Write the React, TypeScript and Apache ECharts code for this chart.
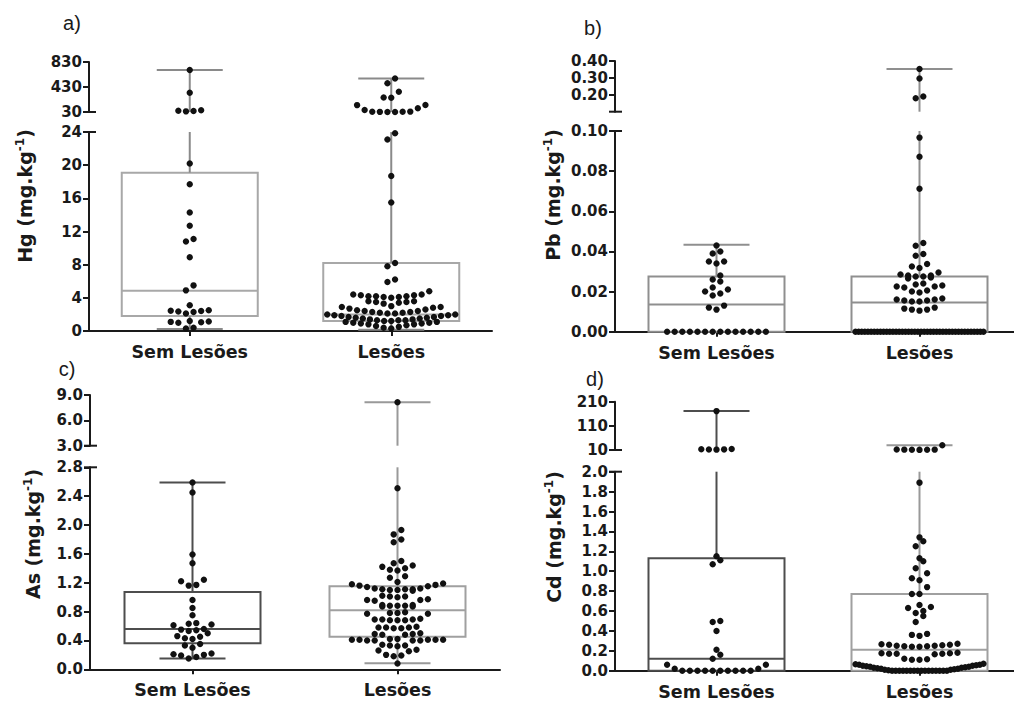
import React, { useEffect, useRef } from "react";
import * as echarts from "echarts";

const categories = ["Sem Lesões", "Lesões"];

// ---------- a) Hg ----------
const hgSemLesoes = [702, 339, 58, 50, 45, 40, 20.2, 17.7, 14.3, 12.7, 11.1, 10.8, 8.9, 5.5, 4.9, 3.1, 2.5, 2.45, 2.4, 2.35, 2.3, 2.1, 1.2, 1.15, 1.1, 1.05, 1.0, 0.4, 0.3];
const hgLesoes = [565, 489, 355, 262, 259, 142, 140, 89, 62, 36, 34, 33, 32, 31.5, 31,
  23.85, 23.1, 18.7, 15.5, 8.2, 7.8, 6.2, 5.9, 4.8,
  4.4, 4.4, 4.3, 4.3, 4.2, 4.2, 4.2, 4.1, 4.1, 4.0,
  3.6, 3.6, 3.5, 3.5, 3.4, 3.3, 3.0, 2.9, 2.9, 2.8, 2.7, 2.6,
  2.5, 2.4, 2.4, 2.3, 2.3, 2.2, 2.2, 2.1, 2.1, 2.0, 2.0, 1.9, 1.9, 1.8, 1.8, 1.7, 1.7, 1.6, 1.6,
  1.5, 1.5, 1.4, 1.4, 1.3, 1.3, 1.3, 1.2, 1.2, 1.1, 1.1, 1.0, 1.0, 0.9, 0.9, 0.8, 0.8, 0.7, 0.6, 0.5, 0.4, 0.3];
const hgBoxSemLesoes = [0.25, 1.8, 4.85, 19.1, 702]; // min, Q1, mediana, Q3, max
const hgBoxLesoes = [0.15, 1.2, 2.0, 8.2, 565];
const hgUpperRange = [30, 830];
const hgUpperTicks = [30, 430, 830];
const hgLowerTicks = [0, 4, 8, 12, 16, 20, 24];

// ---------- b) Pb ----------
const pbSemLesoes = [0.043, 0.040, 0.039, 0.035, 0.035, 0.034, 0.028, 0.026, 0.025, 0.022, 0.021, 0.020, 0.019, 0.018, 0.013, 0.012, 0.011,
  0, 0, 0, 0, 0, 0, 0, 0, 0, 0, 0, 0, 0, 0];
const pbLesoes = [0.353, 0.296, 0.19, 0.18, 0.0967, 0.0872, 0.0712, 0.0442, 0.0428, 0.0387, 0.0378, 0.0337, 0.0325, 0.0317,
  0.0295, 0.0285, 0.028, 0.028, 0.0275, 0.0275, 0.027, 0.0265,
  0.024, 0.0235, 0.023, 0.0225, 0.0225, 0.022,
  0.0205, 0.020, 0.0195,
  0.0165, 0.016, 0.016, 0.0155, 0.0155, 0.015, 0.015,
  0.012, 0.0115, 0.011, 0.011, 0.0105,
  0, 0, 0, 0, 0, 0, 0, 0, 0, 0, 0, 0, 0, 0, 0, 0, 0, 0, 0, 0, 0,
  0, 0, 0, 0, 0, 0, 0, 0, 0, 0, 0, 0, 0, 0, 0, 0, 0, 0, 0, 0, 0];
const pbBoxSemLesoes = [0, 0, 0.0135, 0.0275, 0.0433];
const pbBoxLesoes = [0, 0, 0.0145, 0.0275, 0.353];
const pbUpperRange = [0.1, 0.4];
const pbUpperTicks = [0.2, 0.3, 0.4];
const pbLowerTicks = [0, 0.02, 0.04, 0.06, 0.08, 0.1];

// ---------- c) As ----------
const asSemLesoes = [2.59, 2.45, 1.59, 1.47, 1.24, 1.22, 1.17, 1.16, 0.96, 0.85, 0.75, 0.64, 0.63, 0.62, 0.61, 0.56, 0.55, 0.54, 0.53, 0.50,
  0.46, 0.45, 0.43, 0.42, 0.35, 0.33, 0.30, 0.22, 0.21, 0.20, 0.19, 0.17, 0.15];
const asLesoes = [8.13, 2.51, 1.93, 1.87, 1.80, 1.76, 1.50, 1.47, 1.44, 1.42, 1.40, 1.38, 1.37, 1.29, 1.27, 1.21, 1.19, 1.18, 1.17, 1.16, 1.15, 1.14,
  1.12, 1.12, 1.11, 1.11, 1.11, 1.10, 1.10, 1.09,
  1.02, 1.01, 1.01, 1.00,
  0.97, 0.96, 0.96, 0.95,
  0.89, 0.89, 0.88, 0.88, 0.88, 0.87, 0.87,
  0.79, 0.78, 0.78, 0.77, 0.77,
  0.70, 0.69, 0.69, 0.69, 0.68, 0.68, 0.68,
  0.59, 0.58, 0.58, 0.58, 0.57, 0.57,
  0.50, 0.49, 0.49, 0.48, 0.48,
  0.42, 0.42, 0.41, 0.41, 0.41, 0.41, 0.41, 0.40, 0.40, 0.40, 0.40,
  0.34, 0.33, 0.33, 0.32,
  0.27, 0.26, 0.25,
  0.20, 0.19, 0.18,
  0.08];
const asBoxSemLesoes = [0.15, 0.36, 0.56, 1.07, 2.59];
const asBoxLesoes = [0.083, 0.45, 0.82, 1.15, 8.13];
const asUpperRange = [3, 9];
const asUpperTicks = [3, 6, 9];
const asLowerTicks = [0, 0.4, 0.8, 1.2, 1.6, 2.0, 2.4, 2.8];

// ---------- d) Cd ----------
const cdSemLesoes = [171, 14, 13, 12.5, 12, 11.5, 1.15, 1.11, 1.07, 0.50, 0.49, 0.40, 0.21, 0.16, 0.12, 0.06, 0.06, 0.02, 0.02,
  0, 0, 0, 0, 0, 0, 0, 0, 0, 0];
const cdLesoes = [30, 12, 11.5, 11, 11, 10.5, 11.5,
  1.89, 1.34, 1.30, 1.25, 1.13, 1.10, 1.03, 0.98, 0.93, 0.91, 0.84, 0.77, 0.77, 0.66, 0.64, 0.63, 0.60, 0.58, 0.55, 0.49, 0.37, 0.36, 0.35, 0.27,
  0.265, 0.26, 0.26, 0.255, 0.25, 0.25, 0.245, 0.245, 0.24, 0.24,
  0.18, 0.175, 0.17, 0.17, 0.165, 0.17, 0.175,
  0.12, 0.115, 0.11, 0.11,
  0, 0, 0, 0, 0, 0, 0, 0, 0, 0, 0, 0, 0, 0, 0, 0,
  0.005, 0.01, 0.01, 0.015, 0.02, 0.02, 0.025, 0.03, 0.03, 0.035, 0.04, 0.04, 0.045, 0.05, 0.05, 0.055, 0.06, 0.06, 0.065, 0.07];
const cdBoxSemLesoes = [0, 0, 0.12, 1.13, 171];
const cdBoxLesoes = [0, 0, 0.21, 0.77, 30];
const cdUpperRange = [10, 210];
const cdUpperTicks = [10, 110, 210];
const cdLowerTicks = [0, 0.2, 0.4, 0.6, 0.8, 1.0, 1.2, 1.4, 1.6, 1.8, 2.0];

// ---------- layout / style ----------
const INK = "#1a1a1a";
const DOT_R = 3.2;
const BIN_H = 7.2;
const DOT_GAP = 7.6;
const SWARM_HALF = 64;
const BOX_HALF = 68;
const CAP_HALF = 33;
const TICK_FONT = "DejaVu Sans";

const panels = [
  {
    letter: "a)", element: "Hg", sem: hgSemLesoes, les: hgLesoes, semBox: hgBoxSemLesoes, lesBox: hgBoxLesoes,
    upperRange: hgUpperRange, upperTicks: hgUpperTicks, lowerTicks: hgLowerTicks, upperDigits: 0, lowerDigits: 0,
    layout: { left: 89, width: 403, upperTop: 62, upperHeight: 50, lowerTop: 132, lowerHeight: 199, letterX: 72, letterY: 23, titleX: 25, titleY: 196 },
    colors: [{ box: "#a8a8a8", whisker: "#8a8a8a" }, { box: "#a8a8a8", whisker: "#8a8a8a" }],
  },
  {
    letter: "b)", element: "Pb", sem: pbSemLesoes, les: pbLesoes, semBox: pbBoxSemLesoes, lesBox: pbBoxLesoes,
    upperRange: pbUpperRange, upperTicks: pbUpperTicks, lowerTicks: pbLowerTicks, upperDigits: 2, lowerDigits: 2,
    layout: { left: 615, width: 406, upperTop: 61, upperHeight: 50.7, lowerTop: 131, lowerHeight: 200.7, letterX: 593, letterY: 28, titleX: 553, titleY: 195 },
    colors: [{ box: "#8f8f8f", whisker: "#8f8f8f" }, { box: "#8f8f8f", whisker: "#8f8f8f" }],
  },
  {
    letter: "c)", element: "As", sem: asSemLesoes, les: asLesoes, semBox: asBoxSemLesoes, lesBox: asBoxLesoes,
    upperRange: asUpperRange, upperTicks: asUpperTicks, lowerTicks: asLowerTicks, upperDigits: 1, lowerDigits: 1,
    layout: { left: 90, width: 410, upperTop: 395, upperHeight: 50.7, lowerTop: 467.3, lowerHeight: 202, letterX: 67, letterY: 369, titleX: 33, titleY: 534 },
    colors: [{ box: "#4d4d4d", whisker: "#4d4d4d" }, { box: "#a0a0a0", whisker: "#999999" }],
  },
  {
    letter: "d)", element: "Cd", sem: cdSemLesoes, les: cdLesoes, semBox: cdBoxSemLesoes, lesBox: cdBoxLesoes,
    upperRange: cdUpperRange, upperTicks: cdUpperTicks, lowerTicks: cdLowerTicks, upperDigits: 0, lowerDigits: 1,
    layout: { left: 615, width: 406, upperTop: 401.7, upperHeight: 48.3, lowerTop: 471.7, lowerHeight: 199, letterX: 595, letterY: 379, titleX: 554, titleY: 537 },
    colors: [{ box: "#4d4d4d", whisker: "#4d4d4d" }, { box: "#a0a0a0", whisker: "#999999" }],
  },
];

// GraphPad-like scatter: values are binned into rows; inside a row the points
// are spread from the centre outward in ascending order, compressed to fit.
function computeSwarm(points: number[][], api: any) {
  const pos = points.map((p) => api.coord([p[0], p[1]]));
  const out: number[][] = new Array(points.length);
  [0, 1].forEach((g) => {
    const idx = points
      .map((_, i) => i)
      .filter((i) => points[i][0] === g)
      .sort((a, b) => points[a][1] - points[b][1]);
    let k = 0;
    while (k < idx.length) {
      const y0 = pos[idx[k]][1];
      let j = k;
      while (j < idx.length && y0 - pos[idx[j]][1] < BIN_H) j++;
      const bin = idx.slice(k, j);
      const n = bin.length;
      const s = n > 1 ? Math.min(DOT_GAP, (2 * SWARM_HALF) / (n - 1)) : 0;
      bin.forEach((i, r) => {
        let off = 0;
        if (n % 2 === 1) {
          const m = Math.ceil(r / 2);
          off = r === 0 ? 0 : (r % 2 === 1 ? -m * s : m * s);
        } else {
          const m = Math.floor(r / 2);
          off = (r % 2 === 0 ? -1 : 1) * (m + 0.5) * s;
        }
        out[i] = [pos[i][0] + off, pos[i][1]];
      });
      k = j;
    }
  });
  return out;
}

function dotSeries(gridIndex: number, points: number[][]) {
  let cache: number[][] | null = null;
  return {
    type: "custom",
    xAxisIndex: gridIndex,
    yAxisIndex: gridIndex,
    z: 5,
    clip: false,
    silent: true,
    data: points,
    encode: { x: 0, y: 1 },
    renderItem: (params: any, api: any) => {
      if (params.dataIndex === 0 || !cache) cache = computeSwarm(points, api);
      const p = cache[params.dataIndex];
      return { type: "circle", shape: { cx: p[0], cy: p[1], r: DOT_R }, style: { fill: "#111111" } };
    },
  };
}

function boxSeries(gridIndex: number, boxes: number[][], segment: string, segMin: number, segMax: number, colors: any[]) {
  return {
    type: "custom",
    xAxisIndex: gridIndex,
    yAxisIndex: gridIndex,
    z: 2,
    clip: false,
    silent: true,
    data: boxes,
    encode: { x: 0, y: 1 },
    renderItem: (params: any, api: any) => {
      const g = api.value(0);
      const mn = api.value(1), q1 = api.value(2), md = api.value(3), q3 = api.value(4), mx = api.value(5);
      const cx = api.coord([g, 0])[0];
      const Y = (v: number) => api.coord([g, v])[1];
      const col = colors[g];
      const line = (x1: number, y1: number, x2: number, y2: number, stroke: string) => ({
        type: "line",
        shape: { x1, y1, x2, y2 },
        style: { stroke, lineWidth: 2 },
      });
      const children: any[] = [];
      if (segment === "lower") {
        const top = Math.min(q3, segMax);
        children.push({
          type: "rect",
          shape: { x: cx - BOX_HALF, y: Y(top), width: BOX_HALF * 2, height: Y(q1) - Y(top) },
          style: { fill: "none", stroke: col.box, lineWidth: 2 },
        });
        children.push(line(cx - BOX_HALF, Y(md), cx + BOX_HALF, Y(md), col.box));
        if (mn < q1) {
          children.push(line(cx, Y(mn), cx, Y(q1), col.whisker));
          children.push(line(cx - CAP_HALF, Y(mn), cx + CAP_HALF, Y(mn), col.whisker));
        }
        if (mx > q3) {
          children.push(line(cx, Y(q3), cx, Y(Math.min(mx, segMax)), col.whisker));
          if (mx <= segMax) children.push(line(cx - CAP_HALF, Y(mx), cx + CAP_HALF, Y(mx), col.whisker));
        }
      } else if (mx > segMin) {
        children.push(line(cx, Y(segMin), cx, Y(Math.min(mx, segMax)), col.whisker));
        children.push(line(cx - CAP_HALF, Y(mx), cx + CAP_HALF, Y(mx), col.whisker));
      }
      return { type: "group", children };
    },
  };
}

function buildOption() {
  const grid: any[] = [];
  const xAxis: any[] = [];
  const yAxis: any[] = [];
  const series: any[] = [];
  const graphic: any[] = [];

  panels.forEach((p, pi) => {
    const L = p.layout;
    const up = pi * 2;
    const lo = pi * 2 + 1;
    const lowerMin = p.lowerTicks[0];
    const lowerMax = p.lowerTicks[p.lowerTicks.length - 1];
    const [upperMin, upperMax] = p.upperRange;

    grid.push({ left: L.left, width: L.width, top: L.upperTop, height: L.upperHeight, outerBoundsMode: "none" });
    grid.push({ left: L.left, width: L.width, top: L.lowerTop, height: L.lowerHeight, outerBoundsMode: "none" });

    xAxis.push({ gridIndex: up, type: "category", data: categories, show: false });
    xAxis.push({
      gridIndex: lo,
      type: "category",
      data: categories,
      axisLine: { show: true, lineStyle: { color: INK, width: 2 } },
      axisTick: { show: true, alignWithLabel: true, length: 5, lineStyle: { color: INK, width: 2 } },
      axisLabel: { color: INK, fontSize: 17.5, fontWeight: "bold", fontFamily: TICK_FONT, margin: 12, interval: 0 },
      splitLine: { show: false },
    });

    const yCommon = {
      type: "value",
      axisLine: { show: true, lineStyle: { color: INK, width: 2 } },
      splitLine: { show: false },
    };
    const labelStyle = { color: INK, fontSize: 15, fontWeight: "bold", fontFamily: TICK_FONT, margin: 7 };
    yAxis.push({
      ...yCommon,
      gridIndex: up,
      min: upperMin,
      max: upperMax,
      axisTick: { show: true, length: 6, lineStyle: { color: INK, width: 2 }, customValues: p.upperTicks },
      axisLabel: { ...labelStyle, customValues: p.upperTicks, formatter: (v: number) => v.toFixed(p.upperDigits) },
    });
    yAxis.push({
      ...yCommon,
      gridIndex: lo,
      min: lowerMin,
      max: lowerMax,
      axisTick: { show: true, length: 6, lineStyle: { color: INK, width: 2 }, customValues: p.lowerTicks },
      axisLabel: { ...labelStyle, customValues: p.lowerTicks, formatter: (v: number) => v.toFixed(p.lowerDigits) },
    });

    const boxes = [[0, ...p.semBox], [1, ...p.lesBox]];
    series.push(boxSeries(up, boxes, "upper", upperMin, upperMax, p.colors));
    series.push(boxSeries(lo, boxes, "lower", lowerMin, lowerMax, p.colors));

    const all: number[][] = [];
    p.sem.forEach((v) => all.push([0, v]));
    p.les.forEach((v) => all.push([1, v]));
    series.push(dotSeries(up, all.filter((d) => d[1] > lowerMax)));
    series.push(dotSeries(lo, all.filter((d) => d[1] <= lowerMax)));

    graphic.push({
      type: "text", x: L.letterX, y: L.letterY,
      style: { text: p.letter, fontSize: 20, fontFamily: "Liberation Sans", fill: INK, align: "center", verticalAlign: "middle" },
    });
    graphic.push({
      type: "text", x: L.titleX, y: L.titleY, rotation: Math.PI / 2,
      style: {
        text: `{t|${p.element} (mg.kg}{s|-1}{t|)}`,
        align: "center", verticalAlign: "middle",
        rich: {
          t: { fontSize: 19, fontWeight: "bold", fontFamily: TICK_FONT, fill: INK, lineHeight: 23 },
          s: { fontSize: 12, fontWeight: "bold", fontFamily: TICK_FONT, fill: INK, verticalAlign: "top" },
        },
      },
    });
    const breakY1 = L.upperTop + L.upperHeight;
    const breakY2 = L.lowerTop;
    [breakY1, breakY2].forEach((by) => {
      graphic.push({
        type: "line",
        shape: { x1: L.left - 6, y1: by, x2: L.left + 7, y2: by },
        style: { stroke: INK, lineWidth: 2 },
      });
    });
  });

  return { animation: false, backgroundColor: "#ffffff", grid, xAxis, yAxis, series, graphic };
}

export default function App() {
  const ref = useRef<HTMLDivElement>(null);
  useEffect(() => {
    if (!ref.current) return;
    const chart = echarts.init(ref.current, undefined, { renderer: "svg" });
    chart.setOption(buildOption() as any);
    return () => chart.dispose();
  }, []);
  return (
    <div
      ref={ref}
      style={{ position: "fixed", left: 0, top: 0, width: 1014, height: 702, background: "#ffffff" }}
    />
  );
}
